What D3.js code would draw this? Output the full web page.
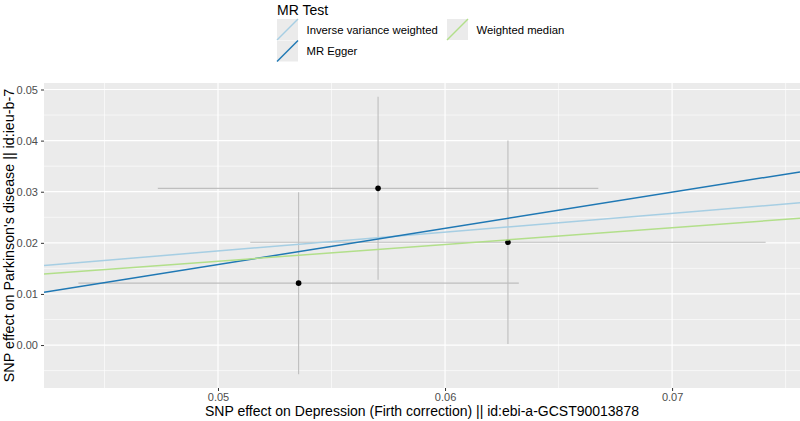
<!DOCTYPE html>
<html><head><meta charset="utf-8">
<script src="https://cdn.jsdelivr.net/npm/d3@7"></script>
<style>
html,body{margin:0;padding:0;background:#fff;}
svg{display:block;font-family:"Liberation Sans",Arial,Helvetica,sans-serif;}
</style></head>
<body><svg id="chart" width="800" height="421"></svg>
<script>
// ---- data ----
const snpX = [0.05355, 0.05705, 0.06277];
const snpY = [0.01211, 0.03066, 0.02012];
const seX = [0.0097, 0.0097, 0.01135];
const seY = [0.0178, 0.0179, 0.0199];
const methods = ["Inverse variance weighted", "MR Egger", "Weighted median"];
const intercepts = [0, -0.01958, 0];
const slopes = [0.368, 0.7069, 0.328];
const methodColors = ["#A6CEE3", "#1F78B4", "#B2DF8A"];
const xTicks = [0.05, 0.06, 0.07];
const xMinor = [0.045, 0.055, 0.065, 0.075];
const yTicks = [0.00, 0.01, 0.02, 0.03, 0.04, 0.05];
const yMinor = [-0.005, 0.005, 0.015, 0.025, 0.035, 0.045];
const xTitle = "SNP effect on Depression (Firth correction) || id:ebi-a-GCST90013878";
const yTitle = "SNP effect on Parkinson's disease || id:ieu-b-7";
const legendTitle = "MR Test";

// ---- layout ----
const svg = d3.select("#chart");
const P = {left: 44, top: 83, right: 800, bottom: 388};
const xLo = d3.min(snpX.map((v,i)=>v-seX[i])), xHi = d3.max(snpX.map((v,i)=>v+seX[i]));
const yLo = d3.min(snpY.map((v,i)=>v-seY[i])), yHi = d3.max(snpY.map((v,i)=>v+seY[i]));
const xe = (xHi-xLo)*0.05, ye = (yHi-yLo)*0.05;
const x = d3.scaleLinear().domain([xLo-xe, xHi+xe]).range([P.left, P.right]);
const y = d3.scaleLinear().domain([yLo-ye, yHi+ye]).range([P.bottom, P.top]);

svg.append("rect").attr("x",P.left).attr("y",P.top).attr("width",P.right-P.left).attr("height",P.bottom-P.top).attr("fill","#EBEBEB");

const defs = svg.append("defs");
defs.append("clipPath").attr("id","clip").append("rect").attr("x",P.left).attr("y",P.top).attr("width",P.right-P.left).attr("height",P.bottom-P.top);

const grid = svg.append("g");
grid.selectAll(".xm").data(xMinor.filter(v=>x(v)>=P.left&&x(v)<=P.right)).join("line")
  .attr("x1",d=>x(d)).attr("x2",d=>x(d)).attr("y1",P.top).attr("y2",P.bottom).attr("stroke","#fff").attr("stroke-width",0.6);
grid.selectAll(".ym").data(yMinor).join("line")
  .attr("y1",d=>y(d)).attr("y2",d=>y(d)).attr("x1",P.left).attr("x2",P.right).attr("stroke","#fff").attr("stroke-width",0.6);
grid.selectAll(".xM").data(xTicks).join("line")
  .attr("x1",d=>x(d)).attr("x2",d=>x(d)).attr("y1",P.top).attr("y2",P.bottom).attr("stroke","#fff").attr("stroke-width",1.2);
grid.selectAll(".yM").data(yTicks).join("line")
  .attr("y1",d=>y(d)).attr("y2",d=>y(d)).attr("x1",P.left).attr("x2",P.right).attr("stroke","#fff").attr("stroke-width",1.2);

const plot = svg.append("g").attr("clip-path","url(#clip)");
const idx = snpX.map((_,i)=>i);
plot.selectAll(".ev").data(idx).join("line")
  .attr("x1",i=>x(snpX[i])).attr("x2",i=>x(snpX[i]))
  .attr("y1",i=>y(snpY[i]-seY[i])).attr("y2",i=>y(snpY[i]+seY[i]))
  .attr("stroke","#BEBEBE").attr("stroke-width",1.1);
plot.selectAll(".eh").data(idx).join("line")
  .attr("y1",i=>y(snpY[i])).attr("y2",i=>y(snpY[i]))
  .attr("x1",i=>x(snpX[i]-seX[i])).attr("x2",i=>x(snpX[i]+seX[i]))
  .attr("stroke","#BEBEBE").attr("stroke-width",1.1);
plot.selectAll(".pt").data(idx).join("circle")
  .attr("cx",i=>x(snpX[i])).attr("cy",i=>y(snpY[i])).attr("r",2.8).attr("fill","#000");
const [d0,d1] = x.domain();
plot.selectAll(".ab").data(methods.map((m,i)=>i)).join("line")
  .attr("x1",x(d0)).attr("x2",x(d1))
  .attr("y1",i=>y(intercepts[i]+slopes[i]*d0)).attr("y2",i=>y(intercepts[i]+slopes[i]*d1))
  .attr("stroke",i=>methodColors[i]).attr("stroke-width",1.5);

// axes
const xAxis = svg.append("g").attr("transform",`translate(0,${P.bottom})`)
  .call(d3.axisBottom(x).tickValues(xTicks).tickSize(3).tickPadding(2).tickFormat(d3.format(".2f")));
const yAxis = svg.append("g").attr("transform",`translate(${P.left},0)`)
  .call(d3.axisLeft(y).tickValues(yTicks).tickSize(3).tickPadding(3).tickFormat(d3.format(".2f")));
[xAxis,yAxis].forEach(a=>{
  a.select(".domain").remove();
  a.selectAll(".tick line").attr("stroke","#333").attr("stroke-width",1);
  a.selectAll(".tick text").attr("fill","#4D4D4D").style("font-size","11px").style("font-family","'Liberation Sans',Arial,sans-serif");
});

svg.append("text").attr("x",(P.left+P.right)/2).attr("y",416).attr("text-anchor","middle")
  .style("font-size","14px").attr("fill","#000").text(xTitle);
svg.append("text").attr("transform",`translate(14,${(P.top+P.bottom)/2}) rotate(-90)`).attr("text-anchor","middle")
  .style("font-size","14.3px").attr("fill","#000").text(yTitle);

// legend
const lg = svg.append("g");
lg.append("text").attr("x",277).attr("y",15).style("font-size","14px").attr("fill","#000").text(legendTitle);
const keyPos = [[277,19],[277,40.5],[447,19]];
methods.forEach((m,i)=>{
  const [kx,ky] = keyPos[i];
  lg.append("rect").attr("x",kx).attr("y",ky).attr("width",21).attr("height",21).attr("fill","#EBEBEB");
  lg.append("line").attr("x1",kx).attr("y1",ky+21).attr("x2",kx+21).attr("y2",ky)
    .attr("stroke",methodColors[i]).attr("stroke-width",1.5);
  lg.append("text").attr("x",kx+29.5).attr("y",ky+14.5).style("font-size","11.3px").attr("fill","#000").text(m);
});
</script></body></html>
